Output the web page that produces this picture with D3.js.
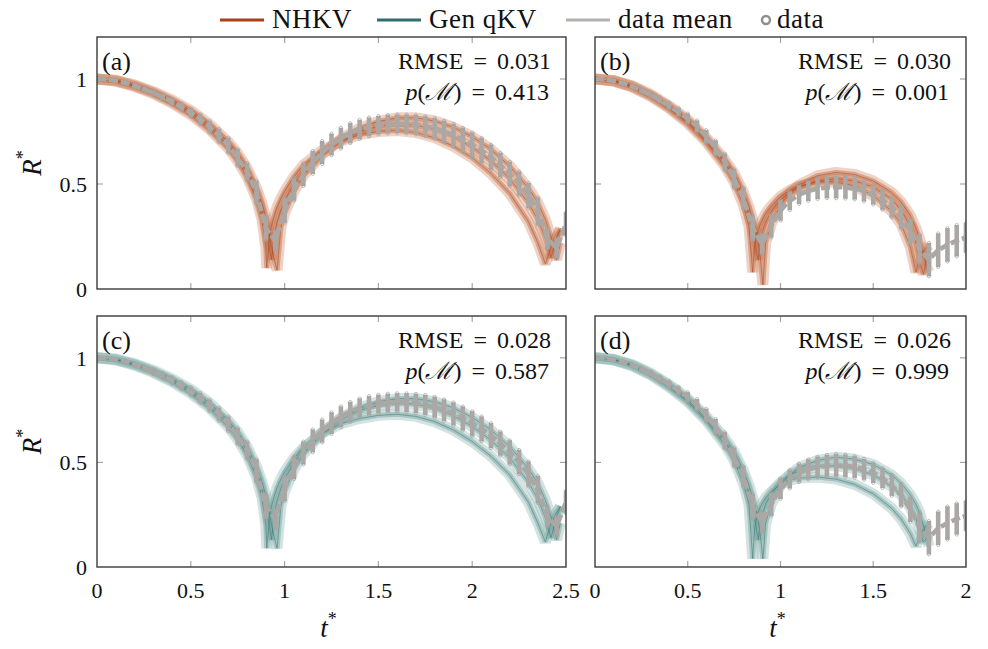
<!DOCTYPE html>
<html><head><meta charset="utf-8">
<script src="https://cdn.jsdelivr.net/npm/d3@7"></script>
<style>body{margin:0;background:#fff}svg{display:block}</style>
</head><body>
<script>
// ---------- data ----------
const tLeft = [0,0.05,0.1,0.15,0.2,0.25,0.3,0.35,0.4,0.45,0.5,0.55,0.6,0.65,0.7,0.75,0.8,0.85,0.9,0.95,1,1.05,1.1,1.15,1.2,1.25,1.3,1.35,1.4,1.45,1.5,1.55,1.6,1.65,1.7,1.75,1.8,1.85,1.9,1.95,2,2.05,2.1,2.15,2.2,2.25,2.3,2.35,2.4,2.45,2.5];
const meanLeft = [1.000,0.998,0.992,0.982,0.968,0.952,0.934,0.914,0.892,0.867,0.840,0.808,0.772,0.730,0.684,0.625,0.558,0.460,0.290,0.230,0.375,0.475,0.545,0.603,0.650,0.688,0.718,0.742,0.760,0.772,0.780,0.785,0.787,0.786,0.782,0.775,0.764,0.750,0.732,0.710,0.685,0.660,0.628,0.590,0.548,0.502,0.445,0.370,0.240,0.195,0.310];
const spreadLeft = [0.003,0.004,0.005,0.006,0.008,0.010,0.012,0.014,0.016,0.018,0.020,0.024,0.028,0.032,0.036,0.040,0.042,0.055,0.060,0.050,0.060,0.055,0.055,0.055,0.055,0.052,0.050,0.048,0.046,0.045,0.044,0.044,0.044,0.045,0.046,0.048,0.050,0.052,0.055,0.058,0.060,0.060,0.060,0.058,0.058,0.058,0.060,0.065,0.050,0.050,0.055];

const tRight = [0,0.05,0.1,0.15,0.2,0.25,0.3,0.35,0.4,0.45,0.5,0.55,0.6,0.65,0.7,0.75,0.8,0.85,0.9,0.95,1,1.05,1.1,1.15,1.2,1.25,1.3,1.35,1.4,1.45,1.5,1.55,1.6,1.65,1.7,1.75,1.8,1.85,1.9,1.95,2];
const meanRight = [1.000,0.998,0.991,0.980,0.965,0.946,0.924,0.899,0.872,0.843,0.812,0.775,0.725,0.672,0.605,0.525,0.432,0.290,0.215,0.300,0.375,0.420,0.450,0.467,0.478,0.484,0.486,0.484,0.478,0.467,0.450,0.425,0.390,0.343,0.275,0.190,0.140,0.185,0.210,0.230,0.245];
const spreadRight = [0.003,0.004,0.005,0.006,0.008,0.010,0.012,0.014,0.017,0.020,0.024,0.028,0.032,0.036,0.040,0.045,0.050,0.060,0.050,0.055,0.050,0.045,0.045,0.048,0.050,0.052,0.054,0.054,0.052,0.050,0.048,0.048,0.050,0.055,0.060,0.070,0.080,0.080,0.080,0.075,0.070];

// model sample curves (time grids + three ensemble members per panel)
const tModelLeft = [0,0.1,0.2,0.3,0.4,0.5,0.6,0.7,0.75,0.8,0.85,0.88,0.9,0.905,0.92,0.93,0.945,0.96,0.98,1,1.05,1.1,1.2,1.3,1.4,1.5,1.6,1.7,1.8,1.9,2,2.1,2.2,2.3,2.35,2.39,2.42,2.45,2.47];
const nhkvA1 = [1.0,0.99,0.965,0.93,0.885,0.83,0.76,0.67,0.61,0.535,0.43,0.33,0.20,0.10,0.25,0.30,0.35,0.39,0.43,0.465,0.535,0.59,0.66,0.705,0.735,0.75,0.755,0.745,0.72,0.68,0.625,0.55,0.455,0.32,0.22,0.12,0.20,0.25,0.28];
const nhkvA2 = [1.0,0.992,0.968,0.935,0.892,0.84,0.77,0.685,0.628,0.555,0.455,0.37,0.29,0.265,0.19,0.14,0.26,0.32,0.375,0.42,0.50,0.56,0.645,0.71,0.75,0.775,0.785,0.78,0.76,0.725,0.675,0.61,0.525,0.41,0.33,0.24,0.15,0.24,0.29];
const nhkvA3 = [1.0,0.994,0.972,0.94,0.90,0.85,0.785,0.70,0.645,0.575,0.48,0.405,0.34,0.32,0.255,0.20,0.14,0.09,0.29,0.36,0.465,0.54,0.64,0.715,0.765,0.798,0.815,0.815,0.80,0.77,0.725,0.665,0.585,0.48,0.41,0.33,0.25,0.14,0.22];
const genqC1 = [1.0,0.99,0.965,0.93,0.885,0.83,0.76,0.67,0.61,0.535,0.43,0.33,0.20,0.09,0.24,0.29,0.34,0.38,0.42,0.455,0.52,0.57,0.64,0.685,0.71,0.725,0.73,0.72,0.695,0.655,0.60,0.53,0.44,0.31,0.21,0.12,0.21,0.26,0.29];
const genqC2 = [1.0,0.992,0.968,0.935,0.892,0.84,0.77,0.685,0.628,0.555,0.455,0.37,0.29,0.265,0.19,0.13,0.26,0.32,0.375,0.42,0.50,0.56,0.645,0.71,0.75,0.772,0.782,0.778,0.758,0.722,0.672,0.606,0.522,0.405,0.325,0.235,0.14,0.24,0.29];
const genqC3 = [1.0,0.994,0.972,0.94,0.90,0.85,0.785,0.70,0.645,0.575,0.48,0.405,0.34,0.32,0.255,0.20,0.14,0.09,0.29,0.36,0.465,0.54,0.64,0.712,0.76,0.79,0.805,0.805,0.79,0.76,0.715,0.655,0.575,0.47,0.40,0.32,0.24,0.13,0.21];

const tModelRight = [0,0.1,0.2,0.3,0.4,0.5,0.6,0.7,0.75,0.8,0.83,0.85,0.86,0.87,0.88,0.89,0.905,0.92,0.95,1,1.05,1.1,1.2,1.3,1.4,1.5,1.6,1.65,1.7,1.73,1.75,1.77,1.79,1.8];
const nhkvB1 = [1.0,0.99,0.962,0.918,0.86,0.79,0.70,0.585,0.51,0.40,0.30,0.08,0.20,0.25,0.28,0.305,0.335,0.36,0.395,0.44,0.47,0.49,0.51,0.51,0.49,0.445,0.37,0.31,0.20,0.08,0.15,0.18,0.20,0.21];
const nhkvB2 = [1.0,0.991,0.965,0.922,0.866,0.798,0.71,0.60,0.53,0.435,0.355,0.28,0.235,0.17,0.14,0.22,0.28,0.32,0.37,0.425,0.46,0.485,0.515,0.525,0.515,0.485,0.425,0.375,0.30,0.22,0.13,0.07,0.15,0.18];
const nhkvB3 = [1.0,0.993,0.968,0.927,0.872,0.806,0.72,0.615,0.55,0.46,0.39,0.33,0.30,0.265,0.22,0.16,0.02,0.22,0.31,0.40,0.455,0.495,0.54,0.555,0.545,0.515,0.46,0.415,0.35,0.29,0.24,0.17,0.10,0.08];
const genqD1 = [1.0,0.99,0.962,0.918,0.86,0.79,0.70,0.585,0.51,0.40,0.30,0.04,0.18,0.23,0.26,0.285,0.31,0.33,0.36,0.395,0.415,0.425,0.43,0.42,0.395,0.35,0.28,0.23,0.16,0.10,0.15,0.18,0.20,0.21];
const genqD2 = [1.0,0.991,0.965,0.922,0.866,0.798,0.71,0.60,0.53,0.435,0.355,0.28,0.235,0.18,0.13,0.20,0.26,0.30,0.35,0.405,0.44,0.46,0.48,0.485,0.47,0.44,0.385,0.345,0.285,0.23,0.18,0.12,0.14,0.17];
const genqD3 = [1.0,0.993,0.968,0.927,0.872,0.806,0.72,0.615,0.55,0.46,0.39,0.33,0.30,0.265,0.22,0.16,0.04,0.21,0.30,0.39,0.44,0.475,0.51,0.525,0.515,0.49,0.44,0.40,0.345,0.30,0.26,0.20,0.14,0.10];

const xTicksLeft = [0,0.5,1,1.5,2,2.5];
const xTicksRight = [0,0.5,1,1.5,2];
const yTicks = [0,0.5,1];
const panelTags = ["(a)","(b)","(c)","(d)"];
const rmseValues = ["0.031","0.030","0.028","0.026"];
const pValues = ["0.413","0.001","0.587","0.999"];
const legendLabels = ["NHKV","Gen qKV","data mean","data"];

// ---------- styles ----------
const FONT = "'Liberation Serif', serif";
const C = {
  nhkv: "#a8401a", nhkvBand: "#c8734c", nhkvLine: "#a4482a",
  genq: "#2f6e6c", genqBand: "#7aa7a3", genqLine: "#3c7774",
  gray: "#aaa7a5", dot: "#8e8e8e", frame: "#3a3a3a", tick: "#a6a6a6"
};

const W = 988, H = 649;
const svg = d3.select("body").append("svg").attr("width", W).attr("height", H)
  .attr("font-family", FONT).style("font-family", FONT);
const defs = svg.append("defs");

const panels = [
  {x0:97, x1:566, y0:37, y1:289, xmax:2.5, t:tLeft, mean:meanLeft, spread:spreadLeft, tm:tModelLeft, members:[nhkvA1,nhkvA2,nhkvA3], model:"nhkv", xt:xTicksLeft, xlab:false, ylab:true},
  {x0:595, x1:966, y0:37, y1:289, xmax:2, t:tRight, mean:meanRight, spread:spreadRight, tm:tModelRight, members:[nhkvB1,nhkvB2,nhkvB3], model:"nhkv", xt:xTicksRight, xlab:false, ylab:false},
  {x0:97, x1:566, y0:316, y1:567, xmax:2.5, t:tLeft, mean:meanLeft, spread:spreadLeft, tm:tModelLeft, members:[genqC1,genqC2,genqC3], model:"genq", xt:xTicksLeft, xlab:true, ylab:true},
  {x0:595, x1:966, y0:316, y1:567, xmax:2, t:tRight, mean:meanRight, spread:spreadRight, tm:tModelRight, members:[genqD1,genqD2,genqD3], model:"genq", xt:xTicksRight, xlab:true, ylab:false}
];

function txt(sel) { return sel.append("text").attr("font-family", FONT).style("font-family", FONT).attr("fill", "#111"); }

panels.forEach((p, i) => {
  const x = d3.scaleLinear().domain([0, p.xmax]).range([p.x0, p.x1]);
  const y = d3.scaleLinear().domain([0, 1.2]).range([p.y1, p.y0]);
  const cid = "clip" + i;
  defs.append("clipPath").attr("id", cid).append("rect")
    .attr("x", p.x0).attr("y", p.y0).attr("width", p.x1 - p.x0).attr("height", p.y1 - p.y0);
  const g = svg.append("g");
  const plot = g.append("g").attr("clip-path", `url(#${cid})`);

  const band = p.model === "nhkv" ? C.nhkvBand : C.genqBand;
  const lcol = p.model === "nhkv" ? C.nhkvLine : C.genqLine;
  const line = d3.line().x(d => x(d[0])).y(d => y(d[1]));

  // model ensemble members
  p.members.forEach(m => {
    const pts = p.tm.map((t, k) => [t, m[k]]);
    plot.append("path").attr("d", line(pts)).attr("fill", "none")
      .attr("stroke", band).attr("stroke-opacity", 0.32).attr("stroke-width", 11)
      .attr("stroke-linejoin", "bevel");
    plot.append("path").attr("d", line(pts)).attr("fill", "none")
      .attr("stroke", band).attr("stroke-opacity", 0.5).attr("stroke-width", 5)
      .attr("stroke-linejoin", "bevel");
  });
  p.members.forEach(m => {
    const pts = p.tm.map((t, k) => [t, m[k]]);
    plot.append("path").attr("d", line(pts)).attr("fill", "none")
      .attr("stroke", lcol).attr("stroke-opacity", 0.6).attr("stroke-width", 0.9);
  });

  // data range bars
  const bars = p.t.map((t, k) => ({t, lo: p.mean[k] - p.spread[k], hi: p.mean[k] + p.spread[k]}));
  plot.selectAll(null).data(bars).enter().append("line")
    .attr("x1", d => x(d.t)).attr("x2", d => x(d.t))
    .attr("y1", d => y(d.lo)).attr("y2", d => y(d.hi))
    .attr("stroke", C.gray).attr("stroke-width", 4.6);
  // data points
  const dots = bars.flatMap(d => [[d.t, d.lo], [d.t, d.hi]]);
  plot.selectAll(null).data(dots).enter().append("circle")
    .attr("cx", d => x(d[0])).attr("cy", d => y(d[1])).attr("r", 1.5)
    .attr("fill", "none").attr("stroke", "#a2a2a2").attr("stroke-width", 0.7);
  // data mean
  plot.append("path").attr("d", line(p.t.map((t, k) => [t, p.mean[k]])))
    .attr("fill", "none").attr("stroke", C.gray).attr("stroke-width", 4.6)
    .attr("stroke-dasharray", "9,3");

  // ticks (inward, all four sides)
  p.xt.forEach(v => {
    if (v === 0 || v === p.xmax) return;
    g.append("line").attr("x1", x(v)).attr("x2", x(v)).attr("y1", p.y1).attr("y2", p.y1 - 6)
      .attr("stroke", C.tick).attr("stroke-width", 1.2);
    g.append("line").attr("x1", x(v)).attr("x2", x(v)).attr("y1", p.y0).attr("y2", p.y0 + 6)
      .attr("stroke", C.tick).attr("stroke-width", 1.2);
  });
  yTicks.forEach(v => {
    if (v === 0) return;
    g.append("line").attr("x1", p.x0).attr("x2", p.x0 + 6).attr("y1", y(v)).attr("y2", y(v))
      .attr("stroke", C.tick).attr("stroke-width", 1.2);
    g.append("line").attr("x1", p.x1).attr("x2", p.x1 - 6).attr("y1", y(v)).attr("y2", y(v))
      .attr("stroke", C.tick).attr("stroke-width", 1.2);
  });
  // frame
  g.append("rect").attr("x", p.x0).attr("y", p.y0).attr("width", p.x1 - p.x0).attr("height", p.y1 - p.y0)
    .attr("fill", "none").attr("stroke", C.frame).attr("stroke-width", 1.4);

  // tick labels
  if (p.ylab) {
    yTicks.forEach(v => {
      txt(g).attr("x", p.x0 - 10).attr("y", y(v)).attr("dy", "0.35em")
        .attr("text-anchor", "end").attr("font-size", 22).text(d3.format("")(v));
    });
  }
  if (p.xlab) {
    p.xt.forEach(v => {
      txt(g).attr("x", x(v)).attr("y", p.y1 + 31)
        .attr("text-anchor", "middle").attr("font-size", 22).text(d3.format("")(v));
    });
    const xl = txt(g).attr("x", (p.x0 + p.x1) / 2 - 3).attr("y", p.y1 + 70)
      .attr("text-anchor", "middle").attr("font-size", 27);
    xl.append("tspan").attr("font-style", "italic").text("t");
    xl.append("tspan").attr("font-size", 18).attr("dy", -12).text("*");
  }
  if (p.ylab) {
    const cy = (p.y0 + p.y1) / 2;
    const yl = txt(g).attr("transform", `translate(41,${cy}) rotate(-90)`)
      .attr("text-anchor", "middle").attr("font-size", 27);
    yl.append("tspan").attr("font-style", "italic").text("R");
    yl.append("tspan").attr("font-size", 18).attr("dy", -12).text("*");
  }

  // annotations
  txt(g).attr("x", p.x0 + 5).attr("y", p.y0 + 33).attr("font-size", 26).text(panelTags[i]);
  txt(g).attr("x", p.x1 - 15).attr("y", p.y0 + 32).attr("text-anchor", "end")
    .attr("font-size", 24).attr("word-spacing", 4).text("RMSE = " + rmseValues[i]);
  const pt = txt(g).attr("x", p.x1 - 17).attr("y", p.y0 + 63).attr("text-anchor", "end")
    .attr("font-size", 24).attr("word-spacing", 4);
  pt.append("tspan").attr("font-style", "italic").text("p");
  pt.append("tspan").text("(");
  pt.append("tspan").attr("font-style", "italic").text("\u2133");
  pt.append("tspan").text(") = " + pValues[i]);
});

// legend
const lg = svg.append("g");
const legendItems = [
  {x:220, color:C.nhkv, type:"line"},
  {x:377, color:C.genq, type:"line"},
  {x:566, color:"#b4b1af", type:"line"},
  {x:762, color:C.dot, type:"dot"}
];
legendItems.forEach((it, i) => {
  if (it.type === "line") {
    lg.append("line").attr("x1", it.x).attr("x2", it.x + 44).attr("y1", 20).attr("y2", 20)
      .attr("stroke", it.color).attr("stroke-width", 3);
    txt(lg).attr("x", it.x + 52).attr("y", 28).attr("font-size", 27).attr("letter-spacing", 0.5).text(legendLabels[i]);
  } else {
    lg.append("circle").attr("cx", it.x + 4).attr("cy", 20).attr("r", 4)
      .attr("fill", "none").attr("stroke", it.color).attr("stroke-width", 2.4);
    txt(lg).attr("x", it.x + 15).attr("y", 28).attr("font-size", 27).attr("letter-spacing", 0.5).text(legendLabels[i]);
  }
});
</script>
</body></html>
